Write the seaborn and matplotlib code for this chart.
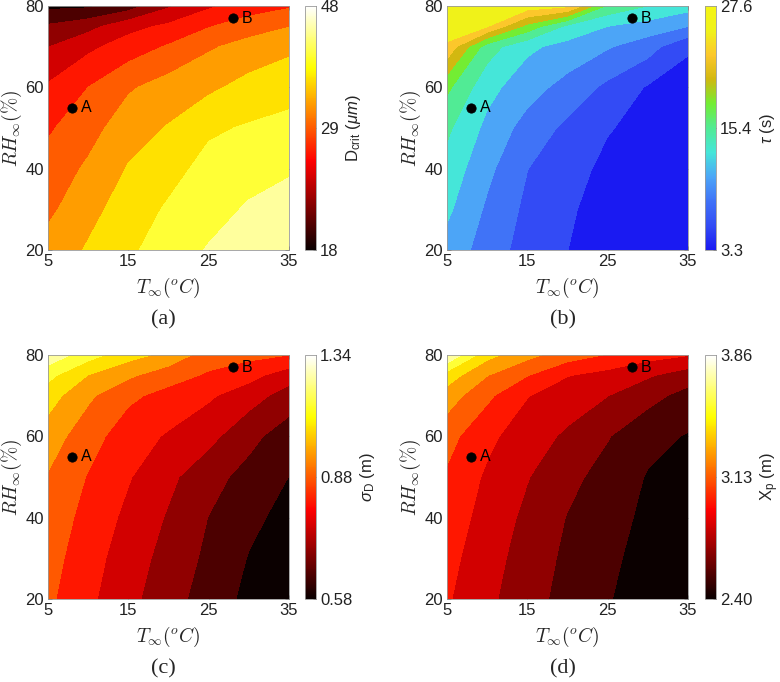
import numpy as np
import matplotlib
matplotlib.use("Agg")
import matplotlib.pyplot as plt
from matplotlib.colors import LinearSegmentedColormap, Normalize
from matplotlib.cm import ScalarMappable
import seaborn as sns

# grid: rows = RH (%), columns = T (C)
T = [5, 10, 15, 20, 25, 30, 35]
RH = [20, 30, 40, 50, 60, 70, 75, 80]

# (a) critical diameter, um
d_crit = [
    [37.2, 39.3, 41.4, 43.6, 45.2, 46.5, 47.5],
    [35.3, 38.1, 40.3, 42.4, 44.0, 45.3, 46.4],
    [34.1, 36.5, 39.2, 40.9, 43.0, 44.0, 44.6],
    [32.6, 34.8, 37.7, 39.2, 41.5, 42.3, 42.8],
    [30.4, 33.0, 35.6, 37.3, 38.4, 40.0, 41.0],
    [26.9, 29.3, 31.4, 33.3, 35.6, 37.1, 38.3],
    [24.4, 26.0, 29.0, 30.6, 32.8, 34.6, 35.9],
    [20.3, 20.5, 22.5, 26.6, 29.5, 31.4, 32.6],
]

# (b) tau, s
tau = [
    [12.1, 9.5, 7.1, 5.75, 4.0, 3.5, 3.35],
    [13.5, 10.2, 7.6, 6.1, 4.6, 3.8, 3.5],
    [14.6, 11.2, 8.2, 6.7, 5.1, 4.3, 3.8],
    [15.9, 12.4, 9.6, 7.6, 5.9, 4.9, 4.2],
    [18.4, 13.8, 11.6, 9.7, 7.6, 5.5, 4.8],
    [24.6, 16.6, 13.5, 12.2, 10.8, 9.2, 6.0],
    [26.9, 25.3, 19.5, 14.8, 13.0, 12.0, 10.6],
    [27.5, 27.4, 26.5, 25.6, 17.3, 15.4, 14.0],
]

# (c) sigma_D, m
sigma_d = [
    [0.975, 0.900, 0.830, 0.760, 0.700, 0.635, 0.585],
    [0.990, 0.915, 0.845, 0.780, 0.715, 0.652, 0.605],
    [1.005, 0.935, 0.865, 0.800, 0.730, 0.675, 0.630],
    [1.030, 0.955, 0.890, 0.825, 0.760, 0.705, 0.655],
    [1.075, 0.990, 0.920, 0.875, 0.830, 0.755, 0.690],
    [1.145, 1.050, 0.975, 0.935, 0.895, 0.840, 0.775],
    [1.210, 1.110, 1.050, 0.990, 0.950, 0.910, 0.840],
    [1.320, 1.220, 1.140, 1.090, 0.995, 0.980, 0.960],
]

# (d) X_p, m
x_p = [
    [3.00, 2.87, 2.75, 2.64, 2.555, 2.48, 2.42],
    [3.03, 2.895, 2.775, 2.66, 2.575, 2.495, 2.435],
    [3.07, 2.925, 2.805, 2.685, 2.60, 2.515, 2.455],
    [3.11, 2.96, 2.845, 2.73, 2.64, 2.535, 2.48],
    [3.18, 3.02, 2.90, 2.815, 2.70, 2.59, 2.535],
    [3.35, 3.16, 2.99, 2.905, 2.84, 2.74, 2.64],
    [3.50, 3.28, 3.135, 2.99, 2.93, 2.855, 2.76],
    [3.84, 3.47, 3.32, 3.20, 3.12, 3.04, 2.99],
]

# case points
pt_names = ["A", "B"]
pt_T = [8, 28]
pt_RH = [55, 77]

panels = [
    ("(a)", d_crit, 18, 48, ["18", "29", "48"], r"D$_{\rm crit}$ ($\mu m$)", "hot"),
    ("(b)", tau, 3.3, 27.6, ["3.3", "15.4", "27.6"], r"$\tau$ (s)", "tau"),
    ("(c)", sigma_d, 0.58, 1.34, ["0.58", "0.88", "1.34"], r"$\sigma$$_{\rm D}$ (m)", "hot"),
    ("(d)", x_p, 2.40, 3.86, ["2.40", "3.13", "3.86"], r"X$_{\rm p}$ (m)", "hot"),
]

tau_cmap = LinearSegmentedColormap.from_list("tau", [
    (0.0, (0.10, 0.10, 0.95)),
    (0.1, (0.20, 0.30, 0.96)),
    (0.2, (0.25, 0.45, 0.97)),
    (0.3, (0.30, 0.65, 0.97)),
    (0.4, (0.27, 0.90, 0.85)),
    (0.5, (0.32, 0.92, 0.58)),
    (0.6, (0.45, 0.93, 0.20)),
    (0.7, (0.82, 0.72, 0.06)),
    (0.8, (0.99, 0.78, 0.17)),
    (0.9, (0.94, 0.95, 0.10)),
    (1.0, (0.96, 0.96, 0.08)),
])

sns.set_theme(style="white")
plt.rcParams["font.family"] = ["Liberation Sans", "DejaVu Sans"]
plt.rcParams["mathtext.fontset"] = "custom"
plt.rcParams["mathtext.rm"] = "Liberation Sans"
plt.rcParams["mathtext.it"] = "Liberation Sans:italic"

fig = plt.figure(figsize=(7.8, 6.82), dpi=100)

# pixel boxes: (left, top) of each plot
boxes = [(48, 6), (447, 6), (48, 355), (447, 355)]
cbar_left = [305, 705, 305, 705]
W, H = 780, 682

for (tag, z, vmin, vmax, tlabels, clabel, cm_name), (bx, by), cx in zip(panels, boxes, cbar_left):
    ax = fig.add_axes([bx / W, 1 - (by + 244) / H, 241 / W, 244 / H])
    cax = fig.add_axes([cx / W, 1 - (by + 244) / H, 11 / W, 244 / H])
    cmap = tau_cmap if cm_name == "tau" else plt.get_cmap("hot")
    norm = Normalize(vmin, vmax)
    levels = np.linspace(vmin, vmax, 11)
    band_colors = [cmap(norm(v)) for v in levels[:-1]]
    ax.contourf(T, RH, np.array(z), levels=levels, colors=band_colors, antialiased=False)

    sns.scatterplot(x=pt_T, y=pt_RH, ax=ax, color="black", s=45, edgecolor="black", legend=False, zorder=5)
    for name, tx, ry in zip(pt_names, pt_T, pt_RH):
        ax.text(tx + 1.1, ry, name, fontsize=11.5, va="center", ha="left", color="black", zorder=6)

    ax.set_xlim(5, 35)
    ax.set_ylim(20, 80)
    ax.set_xticks([5, 15, 25, 35])
    ax.set_yticks([20, 40, 60, 80])
    ax.tick_params(direction="in", length=3, width=0.6, labelsize=12, colors="#222222",
                   top=True, right=True, bottom=True, left=True, pad=3)
    for s in ax.spines.values():
        s.set_color("#999999")
        s.set_linewidth(0.6)
    ax.set_xlabel(r"$T_\infty(^oC)$", fontsize=14, math_fontfamily="cm", labelpad=5)
    ax.set_ylabel(r"$RH_\infty(\%)$", fontsize=14, math_fontfamily="cm", labelpad=1)
    ax.text(0.48, -0.285, tag, transform=ax.transAxes, ha="center", va="center",
            fontsize=16, family="Liberation Serif")

    cb = fig.colorbar(ScalarMappable(norm=norm, cmap=cmap), cax=cax)
    cb.set_ticks([vmin, (vmin + vmax) / 2, vmax])
    cb.set_ticklabels(tlabels)
    cb.ax.tick_params(direction="in", length=2, width=0.6, labelsize=12, colors="#222222", pad=3)
    cb.outline.set_edgecolor("#999999")
    cb.outline.set_linewidth(0.6)
    cb.set_label(clabel, fontsize=12, labelpad=4)

fig.savefig("out.png", dpi=100)
